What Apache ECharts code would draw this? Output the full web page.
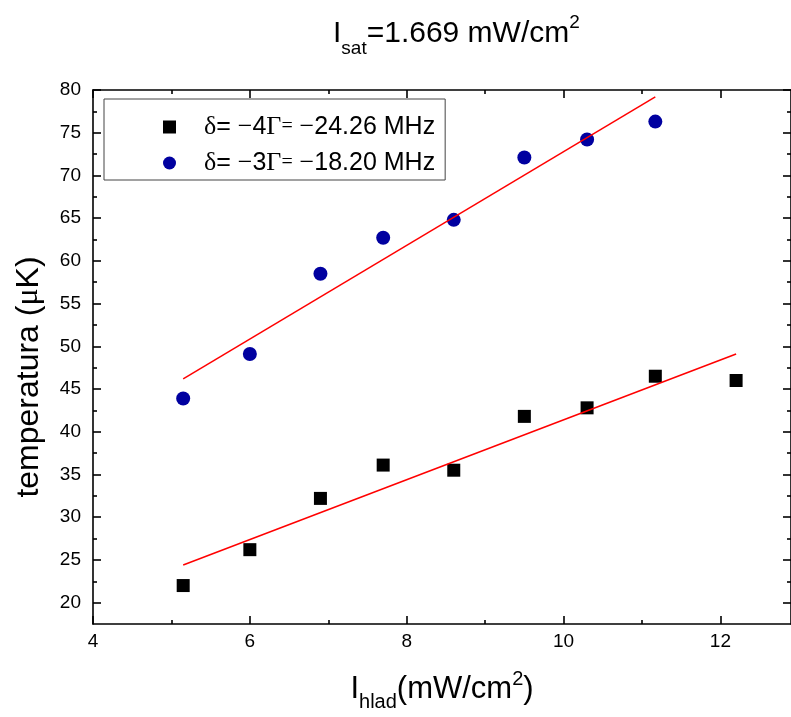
<!DOCTYPE html>
<html>
<head>
<meta charset="utf-8">
<script src="https://cdn.jsdelivr.net/npm/echarts@6/dist/echarts.min.js"></script>
<style>
html,body{margin:0;padding:0;background:#fff;}
#chart{width:791px;height:717px;}
</style>
</head>
<body>
<div id="chart"></div>
<script>
// ---- data ----
const xSquares = [5.15, 6.0, 6.9, 7.7, 8.6, 9.5, 10.3, 11.17, 12.2];
const ySquares = [22.0, 26.2, 32.2, 36.1, 35.5, 41.8, 42.8, 46.5, 46.0];
const xCircles = [5.15, 6.0, 6.9, 7.7, 8.6, 9.5, 10.3, 11.17];
const yCircles = [43.9, 49.1, 58.5, 62.7, 64.8, 72.1, 74.2, 76.3];
const fitSquaresX = [5.15, 12.2];
const fitSquaresY = [24.4, 49.1];
const fitCirclesX = [5.15, 11.17];
const fitCirclesY = [46.2, 79.2];
const xTicks = [4, 6, 8, 10, 12];
const xMinorTicks = [5, 7, 9, 11];
const yTicks = [20, 25, 30, 35, 40, 45, 50, 55, 60, 65, 70, 75, 80];
const yMinorTicks = [22.5, 27.5, 32.5, 37.5, 42.5, 47.5, 52.5, 57.5, 62.5, 67.5, 72.5, 77.5];
const seriesNames = ['sq', 'ci'];

const X_MIN = 4, X_MAX = 12.9, Y_MIN = 17.5, Y_MAX = 80;
const SANS = 'Liberation Sans, Arial, sans-serif';
const SERIF = 'Liberation Serif, Times New Roman, serif';

const zip = (a, b) => a.map((v, i) => [v, b[i]]);

function xAx(position, ticks, len, withLine, extra) {
  return Object.assign({
    type: 'value', position: position, min: X_MIN, max: X_MAX,
    axisLine: { show: withLine, onZero: false, lineStyle: { color: '#000', width: 1.6 } },
    axisTick: { show: true, inside: true, length: len, customValues: ticks, lineStyle: { color: '#000', width: 1.6 } },
    axisLabel: { show: false },
    splitLine: { show: false }
  }, extra || {});
}
function yAx(position, ticks, len, withLine, extra) {
  return Object.assign({
    type: 'value', position: position, min: Y_MIN, max: Y_MAX,
    axisLine: { show: withLine, onZero: false, lineStyle: { color: '#000', width: 1.6 } },
    axisTick: { show: true, inside: true, length: len, customValues: ticks, lineStyle: { color: '#000', width: 1.6 } },
    axisLabel: { show: false },
    splitLine: { show: false }
  }, extra || {});
}

const chart = echarts.init(document.getElementById('chart'), null, { renderer: 'canvas' });
const option = {
  animation: false,
  backgroundColor: '#fff',
  title: {
    text: '{a|I}{b|sat}{a|=1.669 mW/cm}{c|2}',
    left: 333, top: 10, padding: 0,
    textStyle: {
      fontWeight: 'normal',
      rich: {
        a: { fontFamily: SANS, fontSize: 30, fontWeight: 'normal', color: '#000', lineHeight: 48, verticalAlign: 'middle' },
        b: { fontFamily: SANS, fontSize: 19, fontWeight: 'normal', color: '#000', lineHeight: 19, verticalAlign: 'bottom' },
        c: { fontFamily: SANS, fontSize: 19, fontWeight: 'normal', color: '#000', lineHeight: 19, verticalAlign: 'top', padding: [3, 0, 0, 0] }
      }
    }
  },
  grid: { left: 93, top: 90, width: 698, height: 536, containLabel: false },
  legend: {
    orient: 'vertical', left: 104, top: 99,
    padding: [15, 10, 4, 59],
    itemWidth: 13, itemHeight: 13, itemGap: 10,
    borderColor: '#444', borderWidth: 1, backgroundColor: '#fff',
    data: [{ name: seriesNames[0], icon: 'rect' }, { name: seriesNames[1], icon: 'circle' }],
    formatter: function (name) {
      if (name === 'sq') return '{sp| }{g|δ}= {g|−}4{g|Γ}{e|=} {g|−}24.26 MHz';
      return '{sp| }{g|δ}= {g|−}3{g|Γ}{e|=} {g|−}18.20 MHz';
    },
    textStyle: {
      fontFamily: SANS, fontSize: 25, color: '#000', lineHeight: 26,
      rich: {
        sp: { width: 23 },
        g: { fontFamily: SERIF, fontSize: 26, color: '#000' },
        e: { fontFamily: SERIF, fontSize: 20, color: '#000' }
      }
    }
  },
  xAxis: [
    xAx('bottom', xTicks, 8, true, {
      axisLabel: { show: true, customValues: xTicks, fontFamily: SANS, fontSize: 19, color: '#000', margin: 8 },
      name: '{a|I}{b|hlad}{a|(mW/cm}{c|2}{a|)}',
      nameLocation: 'middle', nameGap: 42,
      nameTextStyle: {
        rich: {
          a: { fontFamily: SANS, fontSize: 31, color: '#000', lineHeight: 46, verticalAlign: 'middle' },
          b: { fontFamily: SANS, fontSize: 20, color: '#000', lineHeight: 20, verticalAlign: 'bottom' },
          c: { fontFamily: SANS, fontSize: 20, color: '#000', lineHeight: 20, verticalAlign: 'top', padding: [3, 0, 0, 0] }
        }
      }
    }),
    xAx('bottom', xMinorTicks, 4, false),
    xAx('top', xTicks, 8, true),
    xAx('top', xMinorTicks, 4, false)
  ],
  yAxis: [
    yAx('left', yTicks, 8, true, {
      axisLabel: { show: true, customValues: yTicks, fontFamily: SANS, fontSize: 19, color: '#000', margin: 12 },
      name: '{a|temperatura (}{m|μ}{a|K)}',
      nameLocation: 'middle', nameGap: 48, nameRotate: 90,
      nameTextStyle: {
        padding: [0, 40, 0, 0],
        rich: {
          a: { fontFamily: SANS, fontSize: 32, color: '#000' },
          m: { fontFamily: SERIF, fontSize: 32, color: '#000' }
        }
      }
    }),
    yAx('left', yMinorTicks, 4, false),
    yAx('right', yTicks, 8, true),
    yAx('right', yMinorTicks, 4, false)
  ],
  series: [
    {
      name: seriesNames[0], type: 'scatter', symbol: 'rect', symbolSize: 13,
      itemStyle: { color: '#000', opacity: 1 }, data: zip(xSquares, ySquares), z: 2
    },
    {
      name: seriesNames[1], type: 'scatter', symbol: 'circle', symbolSize: 14,
      itemStyle: { color: '#0000a0', opacity: 1 }, data: zip(xCircles, yCircles), z: 2
    },
    {
      name: 'fitSq', type: 'line', showSymbol: false, symbol: 'none',
      lineStyle: { color: '#ff0000', width: 1.5 }, data: zip(fitSquaresX, fitSquaresY), z: 3
    },
    {
      name: 'fitCi', type: 'line', showSymbol: false, symbol: 'none',
      lineStyle: { color: '#ff0000', width: 1.5 }, data: zip(fitCirclesX, fitCirclesY), z: 3
    }
  ]
};
chart.setOption(option);
</script>
</body>
</html>
